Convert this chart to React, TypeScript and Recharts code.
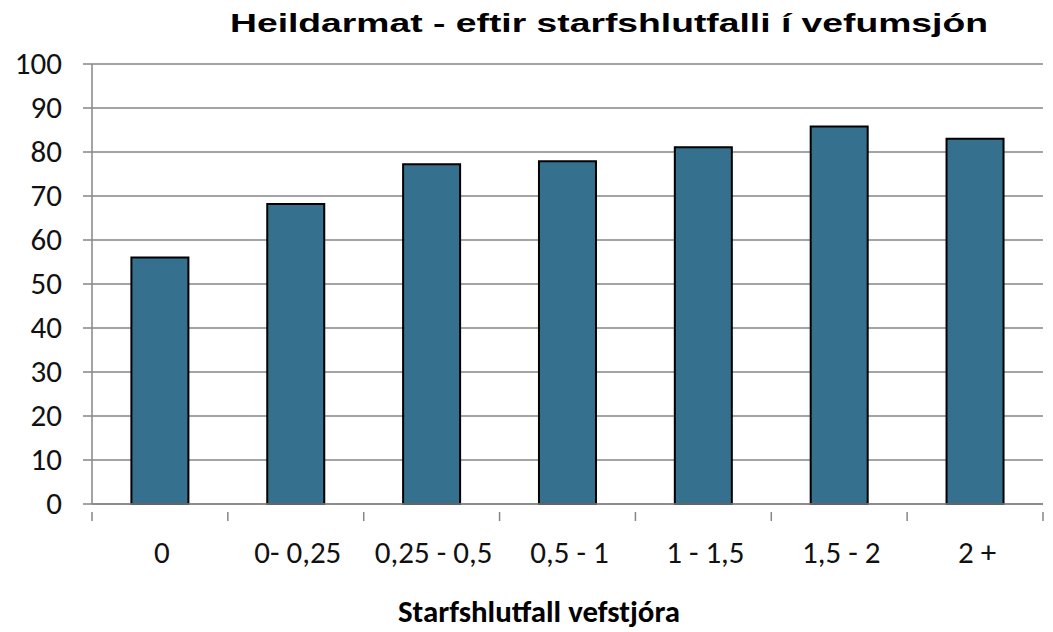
import React from 'react';
import { BarChart, Bar, XAxis, YAxis, CartesianGrid } from 'recharts';

const categories = ['0', '0- 0,25', '0,25 - 0,5', '0,5 - 1', '1 - 1,5', '1,5 - 2', '2 +'];
const scores = [56, 68.2, 77.2, 77.9, 81.1, 85.8, 83.0];
const yTicks = [0, 10, 20, 30, 40, 50, 60, 70, 80, 90, 100];

const data = categories.map((name, i) => ({ name, value: scores[i] }));

const W = 1053;
const H = 632;
const LEFT = 92;
const RIGHT_MARGIN = 10;
const STEP = (W - LEFT - RIGHT_MARGIN) / categories.length;

const labelFont = 'Carlito, "Open Sans", "Liberation Sans", sans-serif';
const gray = '#868686';

const CategoryTick = (props: any) => {
  const { x, y, payload, index } = props;
  const isLast = index === categories.length - 1;
  return (
    <g>
      <line x1={x - STEP / 2} x2={x - STEP / 2} y1={y} y2={y + 9} stroke={gray} strokeWidth={1.5} />
      {isLast && (
        <line x1={x + STEP / 2} x2={x + STEP / 2} y1={y} y2={y + 9} stroke={gray} strokeWidth={1.5} />
      )}
      <text x={x + 2} y={y + 51} textAnchor="middle" fill="#111" fontSize={31} fontFamily={labelFont}>
        {payload.value}
      </text>
    </g>
  );
};

const ValueTick = (props: any) => {
  const { x, y, payload } = props;
  return (
    <text x={x} y={y + 10} textAnchor="end" fill="#111" fontSize={31} fontFamily={labelFont}>
      {payload.value}
    </text>
  );
};

export default function App() {
  return (
    <div style={{ position: 'absolute', left: 0, top: 0, width: W, height: H, background: '#fff' }}>
      <BarChart
        width={W}
        height={H}
        data={data}
        margin={{ top: 64, right: RIGHT_MARGIN, bottom: 0, left: 0 }}
        barCategoryGap="29%"
      >
        <CartesianGrid vertical={false} stroke={gray} strokeWidth={1.5} />
        <YAxis
          width={LEFT}
          domain={[0, 100]}
          ticks={yTicks}
          interval={0}
          axisLine={{ stroke: gray, strokeWidth: 1.5 }}
          tickLine={{ stroke: gray, strokeWidth: 1.5 }}
          tickSize={9}
          tickMargin={21}
          tick={<ValueTick />}
        />
        <XAxis
          dataKey="name"
          interval={0}
          axisLine={{ stroke: gray, strokeWidth: 1.5 }}
          tickLine={false}
          tick={<CategoryTick />}
          height={128}
        />
        <Bar dataKey="value" fill="#35718E" stroke="#000" strokeWidth={2} isAnimationActive={false} />
      </BarChart>
      <svg width={W} height={H} style={{ position: 'absolute', left: 0, top: 0, pointerEvents: 'none' }}>
        <text
          x={609}
          y={32}
          textAnchor="middle"
          textLength={758}
          lengthAdjust="spacingAndGlyphs"
          fontFamily='"Liberation Sans", Arial, sans-serif'
          fontWeight="bold"
          fontSize={26}
          fill="#000"
        >
          Heildarmat - eftir starfshlutfalli í vefumsjón
        </text>
        <text
          x={539}
          y={622}
          textAnchor="middle"
          textLength={282}
          lengthAdjust="spacingAndGlyphs"
          fontFamily={labelFont}
          fontWeight="bold"
          fontSize={30}
          fill="#000"
        >
          Starfshlutfall vefstjóra
        </text>
      </svg>
    </div>
  );
}
